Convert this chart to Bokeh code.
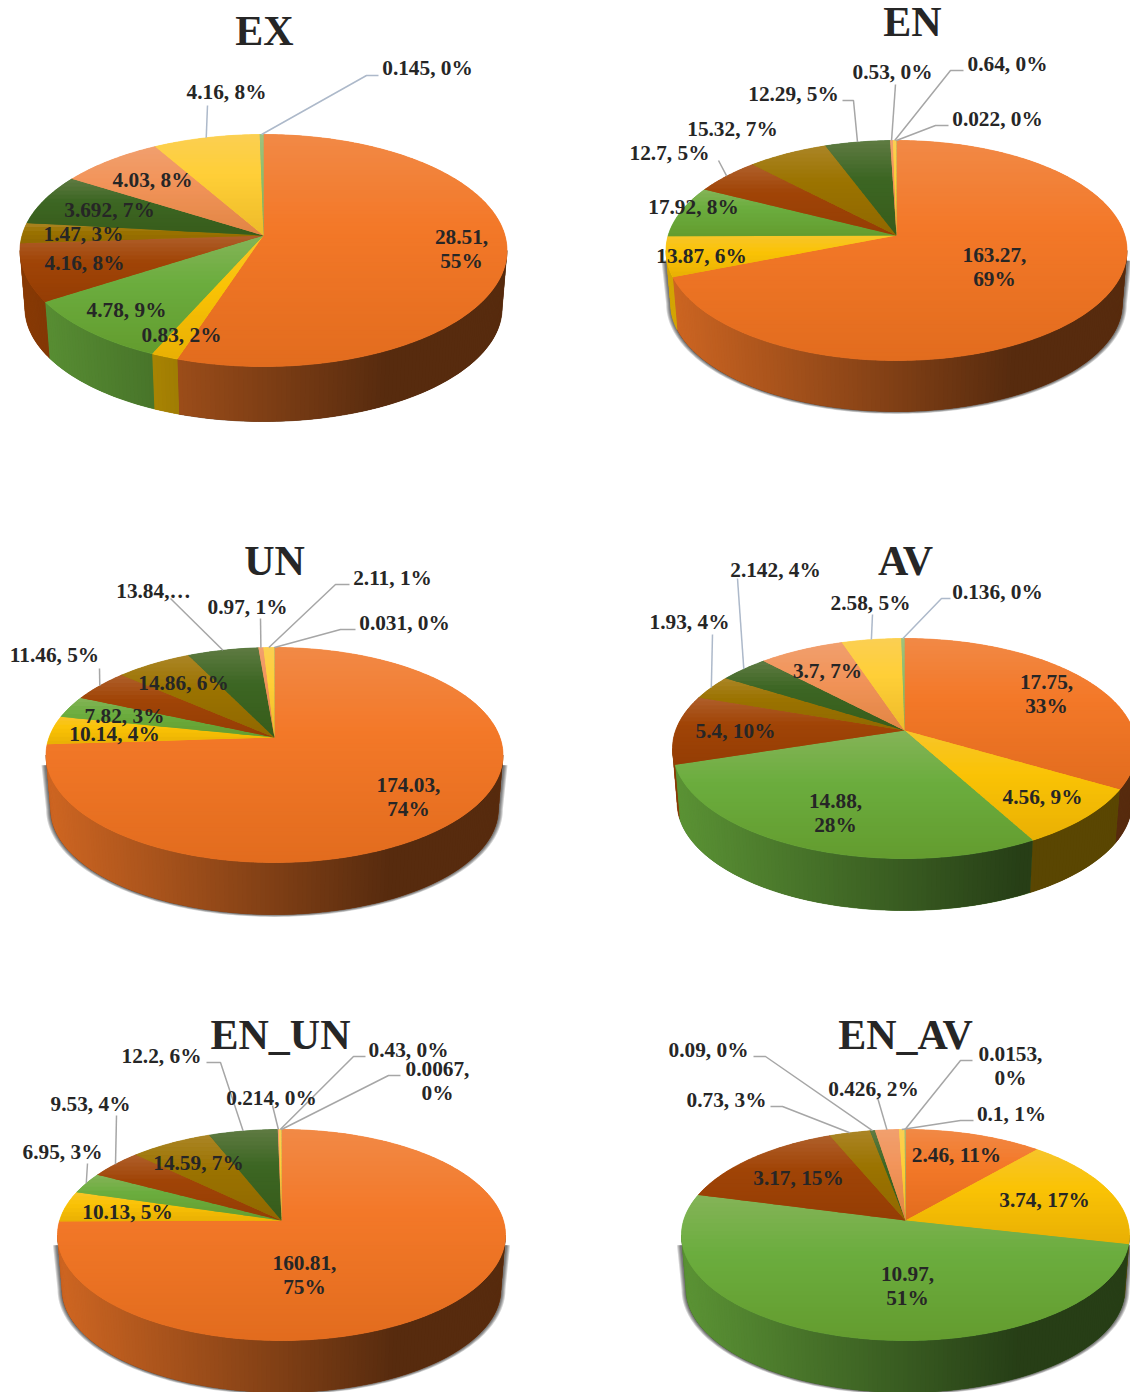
import math

from bokeh.core.properties import value
from bokeh.embed import file_html
from bokeh.models import ColumnDataSource, Range1d
from bokeh.plotting import figure
from bokeh.resources import INLINE

# Values and stated shares, clockwise from twelve o'clock
EX_VALUES = [28.51, 0.83, 4.78, 4.16, 1.47, 3.692, 4.03, 4.16, 0.145]
EX_SHARES = [55, 2, 9, 8, 3, 7, 8, 8, 0]
EN_VALUES = [163.27, 13.87, 17.92, 12.7, 15.32, 12.29, 0.53, 0.64, 0.022]
EN_SHARES = [69, 6, 8, 5, 7, 5, 0, 0, 0]
UN_VALUES = [174.03, 10.14, 7.82, 11.46, 14.86, 13.84, 0.97, 2.11, 0.031]
UN_SHARES = [74, 4, 3, 5, 6, 6, 1, 1, 0]
AV_VALUES = [17.75, 4.56, 14.88, 5.4, 1.93, 2.142, 3.7, 2.58, 0.136]
AV_SHARES = [33, 9, 28, 10, 4, 4, 7, 5, 0]
EN_UN_VALUES = [160.81, 10.13, 6.95, 9.53, 14.59, 12.2, 0.214, 0.43, 0.0067]
EN_UN_SHARES = [75, 5, 3, 4, 7, 6, 0, 0, 0]
EN_AV_VALUES = [2.46, 3.74, 10.97, 3.17, 0.73, 0.09, 0.426, 0.1, 0.0153]
EN_AV_SHARES = [11, 17, 51, 15, 3, 0, 2, 1, 0]

SERIES_RGB = [
    (243, 120, 40), (250, 195, 5), (107, 173, 62),
    (160, 68, 6), (155, 115, 0), (60, 102, 35),
    (242, 148, 90), (255, 207, 55), (140, 190, 110),
]
TEXT_COLOR = "#262626"
BLUE_LEADER = "#adb9ca"
GREY_LEADER = "#a6a6a6"

# Geometry of each disc on the page
PIES = [
    dict(name="EX", values=EX_VALUES, shares=EX_SHARES, ax=263, ay=235, top=134, near=366,
         half_w=243.5, depth=55, shadow=False, leader=BLUE_LEADER, title=(264, 32),
         labels=[(461, 237), (181, 335), (126, 310), (84, 263), (83, 234), (109, 210),
                 (152, 180), (226, 92), (427, 68)],
         wrapped=[0], elbows={7: [(207, 105)], 8: [(378, 75), (366, 75)]}),
    dict(name="EN", values=EN_VALUES, shares=EN_SHARES, ax=896, ay=235, top=140, near=360,
         half_w=230.5, depth=51, shadow=True, leader=GREY_LEADER, title=(912, 23),
         labels=[(994, 255), (701, 256), (693, 207), (669, 153), (732, 129), (793, 94),
                 (892, 72), (1007, 64), (997, 119)],
         wrapped=[0], elbows={3: [(718, 160)], 5: [(842, 100), (853, 100)], 6: [(895, 84)],
                              7: [(963, 70), (950, 70)], 8: [(948, 125), (935, 125)]}),
    dict(name="UN", values=UN_VALUES, shares=UN_SHARES, ax=274, ay=737, top=647, near=862,
         half_w=228.5, depth=52, shadow=True, leader=GREY_LEADER, title=(274, 562),
         labels=[(408, 785), (114, 734), (124, 716), (54, 655), (183, 683), (153, 591),
                 (247, 607), (392, 578), (404, 623)],
         wrapped=[0], elbows={3: [(99, 668)], 5: [(170, 598)], 6: [(260, 618)],
                              7: [(349, 584), (335, 584)], 8: [(355, 629), (340, 629)]}),
    dict(name="AV", values=AV_VALUES, shares=AV_SHARES, ax=904, ay=730, top=638, near=858,
         half_w=232, depth=52, shadow=False, leader=BLUE_LEADER, title=(905, 562),
         labels=[(1046, 682), (1042, 797), (835, 801), (735, 731), (689, 622), (775, 570),
                 (827, 671), (870, 603), (997, 592)],
         wrapped=[0, 2], elbows={4: [(712, 634)], 5: [(737, 578)], 7: [(872, 614)],
                                 8: [(950, 598), (941, 598)]}),
    dict(name="EN_UN", values=EN_UN_VALUES, shares=EN_UN_SHARES, ax=281, ay=1220, top=1129,
         near=1340, half_w=224, depth=52, shadow=True, leader=GREY_LEADER, title=(280, 1036),
         labels=[(304, 1263), (127, 1212), (62, 1152), (90, 1104), (198, 1163), (161, 1056),
                 (271, 1098), (408, 1050), (437, 1069)],
         wrapped=[0, 8], elbows={2: [(87, 1163)], 3: [(116, 1115)], 5: [(206, 1062), (220, 1062)],
                                 6: [(272, 1105)], 7: [(365, 1056), (353, 1056)],
                                 8: [(400, 1075), (388, 1075)]}),
    dict(name="EN_AV", values=EN_AV_VALUES, shares=EN_AV_SHARES, ax=905, ay=1220, top=1129,
         near=1340, half_w=224, depth=52, shadow=True, leader=GREY_LEADER, title=(905, 1036),
         labels=[(956, 1155), (1044, 1200), (907, 1274), (798, 1178), (726, 1100), (708, 1050),
                 (873, 1089), (1011, 1114), (1010, 1054)],
         wrapped=[2, 8], elbows={4: [(770, 1106), (782, 1106)], 5: [(753, 1056), (765, 1056)],
                                 6: [(877, 1097)], 7: [(973, 1120), (960, 1120)],
                                 8: [(972, 1060), (960, 1060)]}),
]
TRUNCATED = {("UN", 5): "13.84,…"}
LINE_GAP = 24.5
LABEL_PX = "21.3px"
TITLE_PX = "42px"
LABEL_NUDGE = (0.0, -1.0)
TITLE_NUDGE = (0.0, -1.5)
HIGHLIGHT = (235, 205, 190)
LOW_SHADE = (0.93, 0.9, 0.75)
BASE_SHRINK = 0.98  # the disc's underside recedes a little in perspective


def hex_of(rgb):
    return "#%02x%02x%02x" % tuple(max(0, min(255, round(c))) for c in rgb)


def mix(a, b, f):
    return tuple(x + (y - x) * f for x, y in zip(a, b))


def projector(pie):
    # Tilted disc in perspective: straight radii stay straight, far side is compressed
    far = pie["ay"] - pie["top"]
    nearer = pie["near"] - pie["ay"]
    k = (nearer - far) / (nearer + far)
    a = far * (1 + k)
    r = pie["half_w"] * math.sqrt(1 - k * k)

    def rim(t, grow=1.0):
        u, v = math.sin(t), math.cos(t)
        s = grow / (1 + k * v)
        return pie["ax"] + r * u * s, pie["ay"] - a * v * s

    def under(t, grow=1.0):
        # Matching point on the underside edge of the disc
        x, y = rim(t, grow * BASE_SHRINK)
        return x, y + pie["depth"] + nearer * (1 - BASE_SHRINK)

    return rim, under, k


def arc_angles(t0, t1, step=math.radians(1.0)):
    n = max(1, int(math.ceil((t1 - t0) / step)))
    return [t0 + (t1 - t0) * i / n for i in range(n + 1)]


def clip_half(points, limit, keep_below):
    # One Sutherland-Hodgman pass against a horizontal line
    out = []
    inside = (lambda p: p[1] >= limit) if keep_below else (lambda p: p[1] <= limit)
    for i, cur in enumerate(points):
        prev = points[i - 1]
        if inside(cur) != inside(prev):
            f = (limit - prev[1]) / (cur[1] - prev[1])
            out.append((prev[0] + (cur[0] - prev[0]) * f, limit))
        if inside(cur):
            out.append(cur)
    return out


def top_color(base, f):
    # Per-slice sheen: pale at the slice's upper edge, slightly darker at its lower edge
    if f < 0.4:
        return mix(base, HIGHLIGHT, 0.2 * (1 - f / 0.4))
    low = tuple(c * s for c, s in zip(base, LOW_SHADE))
    return mix(base, low, (f - 0.4) / 0.6)


def wall_shade(frac):
    return max(0.36, 0.85 - (0.85 - 0.36) * frac / 0.75)


solid = dict(xs=[], ys=[], color=[])
strips = dict(xs=[], ys=[], color=[])
top_flat = dict(xs=[], ys=[], color=[])
bands = dict(xs=[], ys=[], color=[])
shadow = dict(xs=[], ys=[], alpha=[])
leaders = dict(xs=[], ys=[], color=[])
labels = dict(x=[], y=[], text=[])
titles = dict(x=[], y=[], text=[])

for pie in PIES:
    rim, under, k = projector(pie)
    total = sum(pie["values"])
    left = pie["ax"] - pie["half_w"]
    edges = [0.0]
    for v in pie["values"]:
        edges.append(edges[-1] + v / total * 2 * math.pi)
    # The rim's vertical tangents bound the part of the wall that faces the viewer
    turn = math.acos(-k)
    front_start, front_end = turn, 2 * math.pi - turn

    # Narrow contact shadow following the wall's outline
    if pie["shadow"]:
        for grow_px in (4.5, 3.5, 2.5, 1.5):
            grow = 1 + grow_px / pie["half_w"]
            ring = [under(t, grow) for t in arc_angles(front_start, front_end)]
            head, tail = rim(front_start, grow), rim(front_end, grow)
            ring = [(head[0], head[1] + 10)] + ring + [(tail[0], tail[1] + 10)]
            shadow["xs"].append([q[0] for q in ring])
            shadow["ys"].append([q[1] for q in ring])
            shadow["alpha"].append(0.17)

    # Front wall, shaded across the width of the disc
    for i, base in enumerate(SERIES_RGB):
        t0 = max(edges[i], front_start)
        t1 = min(edges[i + 1], front_end)
        if t1 <= t0:
            continue
        angles = arc_angles(t0, t1)
        mid = rim((t0 + t1) / 2)
        mid_frac = (mid[0] - left) / (2 * pie["half_w"])
        upper = [rim(t) for t in angles]
        lower = [under(t) for t in reversed(angles)]
        solid["xs"].append([q[0] for q in upper + lower])
        solid["ys"].append([q[1] for q in upper + lower])
        solid["color"].append(hex_of(tuple(c * wall_shade(mid_frac) for c in base)))
        # Each strip overlaps the one painted after it so no seam shows through
        for j in range(len(angles) - 1):
            ta, tb = angles[j], angles[min(j + 2, len(angles) - 1)]
            a, b, c, d = rim(ta), rim(tb), under(tb), under(ta)
            frac = ((a[0] + rim(angles[j + 1])[0]) / 2 - left) / (2 * pie["half_w"])
            strips["xs"].append([a[0], b[0], c[0], d[0]])
            strips["ys"].append([a[1], b[1], c[1], d[1]])
            strips["color"].append(hex_of(tuple(ch * wall_shade(frac) for ch in base)))

    # Top face: a flat underlay per slice, then horizontal sheen bands
    outlines = []
    for i, base in enumerate(SERIES_RGB):
        outline = [(pie["ax"], pie["ay"])] + [rim(t) for t in arc_angles(edges[i], edges[i + 1])]
        outlines.append(outline)
        top_flat["xs"].append([q[0] for q in outline])
        top_flat["ys"].append([q[1] for q in outline])
        top_flat["color"].append(hex_of(base))
    for outline, base in zip(outlines, SERIES_RGB):
        ymin = min(q[1] for q in outline)
        ymax = max(q[1] for q in outline)
        y = ymin
        while y < ymax:
            piece = clip_half(clip_half(outline, y, True), y + 4.6, False)
            if len(piece) >= 3:
                f = (y + 2 - ymin) / max(1.0, ymax - ymin)
                bands["xs"].append([q[0] for q in piece])
                bands["ys"].append([q[1] for q in piece])
                bands["color"].append(hex_of(top_color(base, f)))
            y += 4

    # Leader lines run from the label to the rim at the middle of the slice
    for i, bend in pie["elbows"].items():
        end = rim((edges[i] + edges[i + 1]) / 2)
        path = list(bend) + [end]
        leaders["xs"].append([q[0] for q in path])
        leaders["ys"].append([q[1] for q in path])
        leaders["color"].append(pie["leader"])

    # Data labels
    for i, (x, y) in enumerate(pie["labels"]):
        number, share = pie["values"][i], pie["shares"][i]
        key = (pie["name"], i)
        if key in TRUNCATED:
            rows = [TRUNCATED[key]]
        elif i in pie["wrapped"]:
            rows = [f"{number},", f"{share}%"]
        else:
            rows = [f"{number}, {share}%"]
        for j, row in enumerate(rows):
            labels["x"].append(x + LABEL_NUDGE[0])
            labels["y"].append(y + LABEL_NUDGE[1] + j * LINE_GAP)
            labels["text"].append(row)

    titles["x"].append(pie["title"][0] + TITLE_NUDGE[0])
    titles["y"].append(pie["title"][1] + TITLE_NUDGE[1])
    titles["text"].append(pie["name"])

p = figure(width=1130, height=1392, x_range=Range1d(0, 1130), y_range=Range1d(1392, 0),
           toolbar_location=None, output_backend="svg", min_border=0,
           background_fill_color="white", border_fill_color="white", outline_line_color=None)
p.axis.visible = False
p.grid.visible = False

p.patches("xs", "ys", source=ColumnDataSource(shadow), fill_color="black",
          fill_alpha="alpha", line_color=None)
p.patches("xs", "ys", source=ColumnDataSource(solid), fill_color="color",
          line_color="color", line_width=0.6)
p.patches("xs", "ys", source=ColumnDataSource(strips), fill_color="color", line_color=None)
p.patches("xs", "ys", source=ColumnDataSource(top_flat), fill_color="color",
          line_color="color", line_width=0.6)
p.patches("xs", "ys", source=ColumnDataSource(bands), fill_color="color", line_color=None)
p.multi_line("xs", "ys", source=ColumnDataSource(leaders), line_color="color", line_width=1.5)

font = value("Liberation Serif")
p.text("x", "y", text="text", source=ColumnDataSource(labels), text_font=font,
       text_font_style="bold", text_font_size=LABEL_PX, text_color=TEXT_COLOR,
       text_align="center", text_baseline="middle")
p.text("x", "y", text="text", source=ColumnDataSource(titles), text_font=font,
       text_font_style="bold", text_font_size=TITLE_PX, text_color=TEXT_COLOR,
       text_align="center", text_baseline="middle")

open("out.html", "w").write(file_html(p, INLINE))
